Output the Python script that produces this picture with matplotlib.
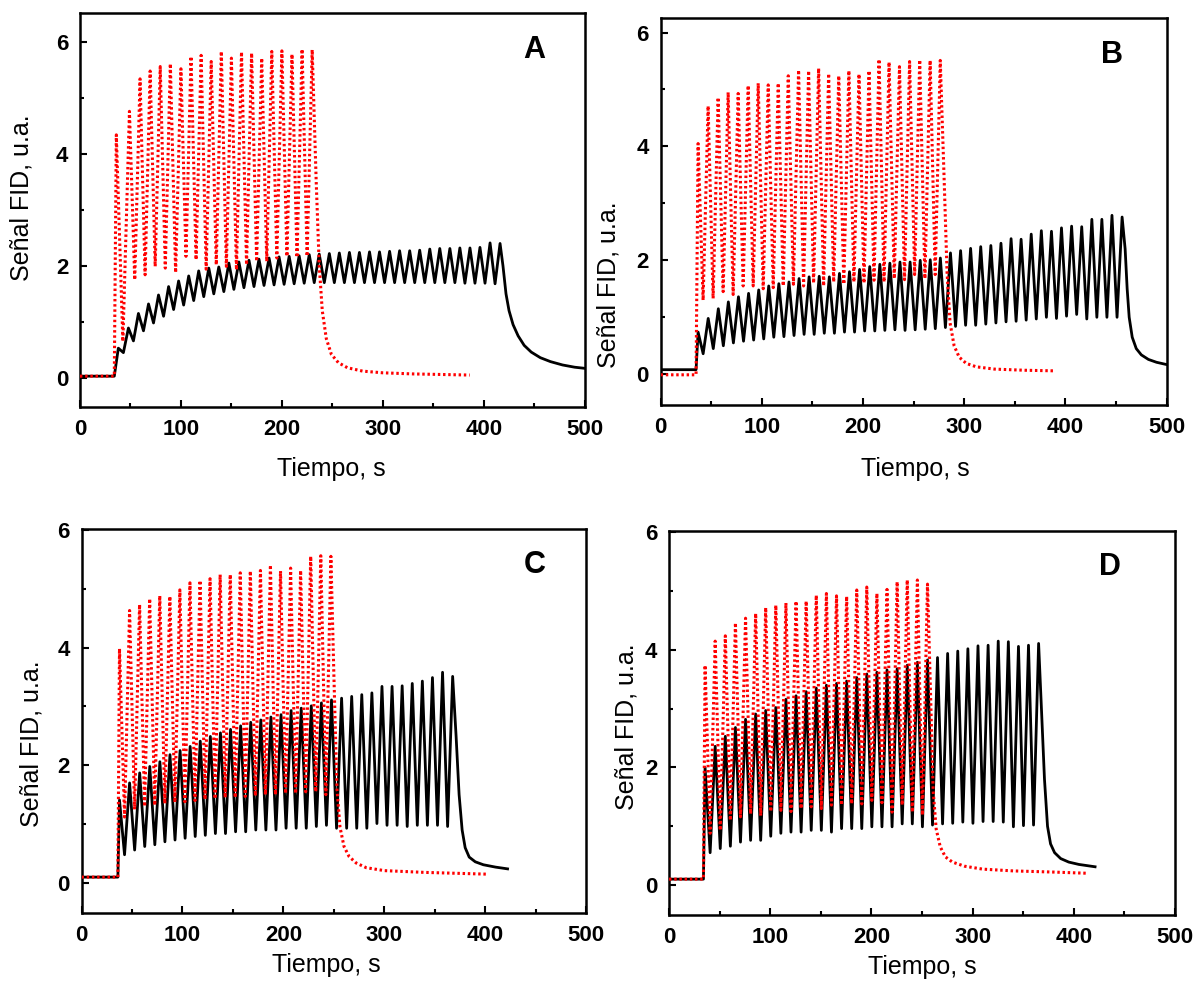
import matplotlib
matplotlib.use("Agg")
import matplotlib.pyplot as plt
from matplotlib.ticker import MultipleLocator

plt.rcParams['font.family'] = ['Liberation Sans', 'DejaVu Sans']

# ---------------- data ----------------
# Panel A
A_base_red = 0.03
A_base_black = 0.03
A_rise = 34.0
A_red_t = [36, 49, 59.5, 69.5, 79.5, 89.5, 100, 110, 120, 130, 140, 150, 160, 170,
           180, 190, 200, 210, 220, 230]
A_red_peak = [4.34, 4.76, 5.34, 5.48, 5.56, 5.61, 5.52, 5.74, 5.76, 5.65, 5.83, 5.71,
              5.82, 5.80, 5.71, 5.83, 5.84, 5.78, 5.87, 5.86]
A_red_trough = [0.65, 1.75, 1.84, 1.99, 1.96, 1.88, 2.17, 2.11, 1.94, 2.02, 1.99, 1.93,
                2.02, 2.08, 2.08, 2.14, 2.17, 2.15, 2.17]
A_red_tail_t = [234, 237, 240, 244, 249, 256, 265, 280, 300, 330, 386]
A_red_tail_y = [3.5, 2.0, 1.2, 0.7, 0.42, 0.27, 0.18, 0.12, 0.09, 0.07, 0.05]
A_blk_t = [38.0, 48.0, 57.9, 67.9, 77.8, 87.8, 97.7, 107.7, 117.6, 127.6, 137.5, 147.5,
           157.4, 167.4, 177.3, 187.3, 197.2, 207.2, 217.1, 227.1, 237.0, 247.0, 256.9,
           266.9, 276.8, 286.8, 296.7, 306.7, 316.6, 326.6, 336.5, 346.5, 356.4, 366.4,
           376.3, 386.3, 396.2, 406.2, 416.1]
A_blk_peak = [0.53, 0.89, 1.15, 1.32, 1.48, 1.63, 1.73, 1.82, 1.91, 1.96, 1.98, 2.05,
              2.07, 2.10, 2.12, 2.14, 2.16, 2.17, 2.18, 2.20, 2.21, 2.22, 2.23, 2.24,
              2.24, 2.25, 2.25, 2.26, 2.27, 2.27, 2.28, 2.30, 2.31, 2.31, 2.32, 2.32,
              2.33, 2.41, 2.40]
A_blk_trough = [0.45, 0.66, 0.84, 0.98, 1.10, 1.22, 1.30, 1.38, 1.45, 1.50, 1.54, 1.58,
                1.61, 1.63, 1.65, 1.66, 1.67, 1.68, 1.69, 1.70, 1.70, 1.70, 1.70, 1.70,
                1.70, 1.70, 1.70, 1.70, 1.70, 1.70, 1.70, 1.70, 1.70, 1.70, 1.69, 1.69,
                1.69, 1.68]
A_blk_tail_t = [419, 422, 425, 429, 434, 440, 447, 456, 466, 478, 490, 500]
A_blk_tail_y = [2.0, 1.5, 1.2, 0.95, 0.75, 0.58, 0.46, 0.36, 0.29, 0.23, 0.19, 0.17]

# Panel B
B_base_red = -0.01
B_base_black = 0.08
B_rise = 35.0
B_red_t = [37.0, 46.9, 56.8, 66.7, 76.6, 86.5, 96.4, 106.3, 116.2, 126.1, 136.3, 146.2,
           156.1, 166.0, 176.0, 186.0, 196.0, 205.9, 215.8, 225.7, 236.0, 246.0, 256.0,
           266.3, 276.3]
B_red_peak = [4.05, 4.71, 4.86, 4.95, 4.93, 5.07, 5.11, 5.08, 5.11, 5.24, 5.34, 5.33,
              5.37, 5.28, 5.24, 5.33, 5.27, 5.33, 5.53, 5.48, 5.40, 5.49, 5.52, 5.51, 5.51]
B_red_trough = [1.30, 1.33, 1.45, 1.40, 1.55, 1.55, 1.50, 1.52, 1.55, 1.58, 1.55, 1.60,
                1.55, 1.62, 1.58, 1.62, 1.60, 1.65, 1.62, 1.68, 1.66, 1.75, 1.68, 1.75]
B_red_tail_t = [280, 283, 286, 290, 295, 302, 312, 330, 360, 388]
B_red_tail_y = [3.5, 1.8, 0.9, 0.5, 0.3, 0.19, 0.13, 0.09, 0.07, 0.06]
B_blk_t = [37.0, 47.0, 57.0, 66.9, 76.9, 86.9, 96.9, 106.8, 116.8, 126.8, 136.8, 146.7,
           156.7, 166.7, 176.7, 186.6, 196.6, 206.6, 216.6, 226.5, 236.5, 246.5, 256.5,
           266.4, 276.4, 286.4, 296.4, 306.3, 316.3, 326.3, 336.3, 346.3, 356.2, 366.2,
           376.2, 386.2, 396.1, 406.1, 416.1, 426.1, 436.0, 446.0, 456.0]
B_blk_peak = [0.74, 0.98, 1.15, 1.27, 1.36, 1.42, 1.48, 1.55, 1.59, 1.62, 1.68, 1.71,
              1.72, 1.71, 1.77, 1.80, 1.84, 1.89, 1.93, 1.95, 1.97, 1.97, 2.00, 2.01,
              2.04, 2.13, 2.17, 2.21, 2.24, 2.26, 2.30, 2.38, 2.37, 2.46, 2.52, 2.51,
              2.57, 2.60, 2.59, 2.72, 2.72, 2.79, 2.76]
B_blk_trough = [0.36, 0.45, 0.50, 0.55, 0.58, 0.60, 0.62, 0.65, 0.66, 0.68, 0.70, 0.70,
                0.72, 0.72, 0.74, 0.74, 0.76, 0.76, 0.77, 0.78, 0.77, 0.78, 0.79, 0.80,
                0.82, 0.84, 0.86, 0.86, 0.88, 0.90, 0.92, 0.93, 0.95, 0.97, 1.00, 0.98,
                1.02, 1.05, 0.97, 1.00, 1.00, 1.00]
B_blk_tail_t = [459, 461, 463, 466, 470, 475, 482, 490, 500]
B_blk_tail_y = [2.2, 1.5, 1.0, 0.65, 0.45, 0.34, 0.26, 0.21, 0.17]

# Panel C
C_base_red = 0.10
C_base_black = 0.10
C_rise = 36.0
C_red_t = [37.6, 47.6, 57.5, 67.5, 77.5, 87.5, 97.4, 107.4, 117.4, 127.3, 137.3, 147.3,
           157.2, 167.2, 177.2, 187.1, 197.1, 207.1, 217.0, 227.0, 237.0, 247.0]
C_red_peak = [3.98, 4.63, 4.73, 4.83, 4.88, 4.87, 4.98, 5.10, 5.14, 5.17, 5.24, 5.24,
              5.27, 5.30, 5.31, 5.40, 5.30, 5.35, 5.31, 5.55, 5.56, 5.55]
C_red_trough = [1.12, 1.25, 1.30, 1.32, 1.35, 1.37, 1.38, 1.40, 1.42, 1.43, 1.45, 1.45,
                1.47, 1.48, 1.50, 1.50, 1.52, 1.52, 1.55, 1.55, 1.50]
C_red_tail_t = [250, 253, 256, 260, 265, 272, 282, 300, 340, 402]
C_red_tail_y = [3.5, 1.6, 0.95, 0.62, 0.45, 0.34, 0.26, 0.21, 0.18, 0.15]
C_blk_t = [37.6, 47.6, 57.6, 67.6, 77.6, 87.6, 97.6, 107.6, 117.6, 127.6, 137.6, 147.6,
           157.6, 167.6, 177.6, 187.6, 197.6, 207.6, 217.6, 227.6, 237.6, 247.6, 257.6,
           267.6, 277.6, 287.6, 297.6, 307.6, 317.6, 327.6, 337.6, 347.6, 357.6, 367.6]
C_blk_peak = [1.41, 1.70, 1.87, 1.98, 2.06, 2.18, 2.25, 2.32, 2.41, 2.49, 2.55, 2.61,
              2.67, 2.73, 2.77, 2.82, 2.86, 2.93, 2.97, 3.01, 3.06, 3.11, 3.14, 3.17,
              3.20, 3.23, 3.34, 3.34, 3.35, 3.39, 3.43, 3.49, 3.58, 3.51]
C_blk_trough = [0.48, 0.56, 0.62, 0.65, 0.70, 0.73, 0.76, 0.79, 0.81, 0.84, 0.84, 0.87,
                0.87, 0.90, 0.90, 0.90, 0.93, 0.93, 0.93, 0.96, 0.98, 0.93, 0.93, 0.93,
                0.93, 1.01, 0.98, 0.98, 0.96, 0.98, 0.98, 0.98, 0.96]
C_blk_tail_t = [371, 374, 377, 380, 384, 390, 398, 410, 422]
C_blk_tail_y = [2.5, 1.5, 0.9, 0.6, 0.44, 0.36, 0.31, 0.27, 0.24]

# Panel D
D_base_red = 0.10
D_base_black = 0.10
D_rise = 34.0
D_red_t = [35.6, 45.6, 55.6, 65.6, 75.6, 85.6, 95.5, 105.5, 115.5, 125.5, 135.5, 145.5,
           155.5, 165.5, 175.5, 185.5, 195.4, 205.4, 215.4, 225.4, 235.4, 245.4, 255.4]
D_red_peak = [3.74, 4.15, 4.24, 4.46, 4.54, 4.62, 4.72, 4.76, 4.80, 4.83, 4.83, 4.93,
              4.96, 4.92, 4.91, 5.02, 5.07, 4.96, 5.03, 5.16, 5.19, 5.19, 5.12]
D_red_trough = [0.88, 0.93, 1.10, 1.16, 1.21, 1.18, 1.25, 1.27, 1.25, 1.30, 1.33, 1.30,
                1.36, 1.36, 1.38, 1.38, 1.44, 1.40, 1.24, 1.36, 1.24, 1.19]
D_red_tail_t = [258.5, 261, 264, 268, 273, 280, 292, 310, 340, 380, 413]
D_red_tail_y = [3.2, 1.6, 0.95, 0.65, 0.48, 0.39, 0.32, 0.27, 0.24, 0.22, 0.20]
D_blk_t = [35.6, 45.6, 55.6, 65.6, 75.6, 85.6, 95.5, 105.5, 115.5, 125.5, 135.5, 145.5,
           155.5, 165.5, 175.5, 185.5, 195.4, 205.4, 215.4, 225.4, 235.4, 245.4, 255.4,
           265.3, 275.3, 285.3, 295.3, 305.3, 315.3, 325.3, 335.3, 345.3, 355.2, 365.2]
D_blk_peak = [2.00, 2.36, 2.53, 2.68, 2.82, 2.91, 2.97, 3.02, 3.16, 3.22, 3.29, 3.35,
              3.40, 3.43, 3.47, 3.53, 3.59, 3.62, 3.66, 3.68, 3.74, 3.79, 3.83, 3.87,
              3.94, 3.98, 4.02, 4.07, 4.08, 4.15, 4.14, 4.06, 4.08, 4.11]
D_blk_trough = [0.55, 0.62, 0.66, 0.73, 0.76, 0.76, 0.83, 0.88, 0.90, 0.90, 0.93, 0.93,
                0.90, 0.96, 0.96, 0.96, 0.99, 0.99, 0.99, 1.04, 1.04, 0.99, 1.02, 1.04,
                1.05, 1.07, 1.05, 1.08, 1.08, 1.07, 0.99, 1.01, 1.02]
D_blk_tail_t = [368, 371, 374, 377, 381, 387, 395, 405, 421]
D_blk_tail_y = [3.0, 1.8, 1.0, 0.7, 0.55, 0.45, 0.39, 0.35, 0.31]

x_ticks_major = [0, 100, 200, 300, 400, 500]
y_ticks_major = [0, 2, 4, 6]
panel_letters = ['A', 'B', 'C', 'D']
xlabel_text = 'Tiempo, s'
ylabel_text = 'Señal FID, u.a.'


def build(base, t_rise, peak_t, peak_y, trough_y, tail_t, tail_y):
    xs = [0.0, t_rise]
    ys = [base, base]
    for i in range(len(peak_t)):
        xs.append(peak_t[i])
        ys.append(peak_y[i])
        if i < len(trough_y):
            xs.append(0.5 * (peak_t[i] + peak_t[i + 1]))
            ys.append(trough_y[i])
    xs += list(tail_t)
    ys += list(tail_y)
    return xs, ys


panels = {
    'A': dict(red=build(A_base_red, A_rise, A_red_t, A_red_peak, A_red_trough, A_red_tail_t, A_red_tail_y),
              blk=build(A_base_black, A_rise, A_blk_t, A_blk_peak, A_blk_trough, A_blk_tail_t, A_blk_tail_y)),
    'B': dict(red=build(B_base_red, B_rise, B_red_t, B_red_peak, B_red_trough, B_red_tail_t, B_red_tail_y),
              blk=build(B_base_black, B_rise, B_blk_t, B_blk_peak, B_blk_trough, B_blk_tail_t, B_blk_tail_y)),
    'C': dict(red=build(C_base_red, C_rise, C_red_t, C_red_peak, C_red_trough, C_red_tail_t, C_red_tail_y),
              blk=build(C_base_black, C_rise, C_blk_t, C_blk_peak, C_blk_trough, C_blk_tail_t, C_blk_tail_y)),
    'D': dict(red=build(D_base_red, D_rise, D_red_t, D_red_peak, D_red_trough, D_red_tail_t, D_red_tail_y),
              blk=build(D_base_black, D_rise, D_blk_t, D_blk_peak, D_blk_trough, D_blk_tail_t, D_blk_tail_y)),
}

# layout (figure fractions) and per-panel styling
layout = {
    'A': dict(rect=[0.0667, 0.586, 0.421, 0.401], ylim=(-0.52, 6.52), letter=(0.90, 0.906),
              ylab=(-0.092, 0.53), xlab=(0.497, -0.127)),
    'B': dict(rect=[0.551, 0.588, 0.422, 0.394], ylim=(-0.54, 6.26), letter=(0.893, 0.904),
              ylab=(-0.080, 0.31), xlab=(0.504, -0.134)),
    'C': dict(rect=[0.068, 0.0712, 0.421, 0.391], ylim=(-0.51, 6.02), letter=(0.897, 0.906),
              ylab=(-0.076, 0.44), xlab=(0.485, -0.104)),
    'D': dict(rect=[0.558, 0.0692, 0.422, 0.391], ylim=(-0.51, 6.03), letter=(0.872, 0.906),
              ylab=(-0.060, 0.49), xlab=(0.50, -0.104)),
}

fig = plt.figure(figsize=(11.99, 9.83), dpi=100)

for key in panel_letters:
    lay = layout[key]
    ax = fig.add_axes(lay['rect'])
    bx, by = panels[key]['blk']
    rx, ry = panels[key]['red']
    ax.plot(bx, by, color='black', lw=2.0, solid_joinstyle='round', zorder=2)
    ax.plot(rx, ry, color='#ff0000', lw=2.2, linestyle=(0, (0.8, 0.9)),
            dash_capstyle='butt', zorder=3)
    ax.set_xlim(0, 500)
    ax.set_ylim(*lay['ylim'])
    ax.set_xticks(x_ticks_major)
    ax.set_yticks(y_ticks_major)
    ax.xaxis.set_minor_locator(MultipleLocator(50))
    ax.yaxis.set_minor_locator(MultipleLocator(1))
    ax.tick_params(which='both', direction='in', top=False, right=False, width=1.5)
    ax.tick_params(which='major', length=5, pad=8.5, labelsize=16)
    ax.tick_params(which='minor', length=3)
    for lbl in ax.get_xticklabels() + ax.get_yticklabels():
        lbl.set_fontweight('bold')
    for sp in ax.spines.values():
        sp.set_linewidth(1.8)
    ax.set_xlabel(xlabel_text, fontsize=18)
    ax.set_ylabel(ylabel_text, fontsize=18)
    ax.xaxis.set_label_coords(*lay['xlab'])
    ax.yaxis.set_label_coords(*lay['ylab'])
    ax.text(lay['letter'][0], lay['letter'][1], key, transform=ax.transAxes,
            fontsize=22, fontweight='bold', ha='center', va='center')

fig.savefig('out.png', dpi=100)
